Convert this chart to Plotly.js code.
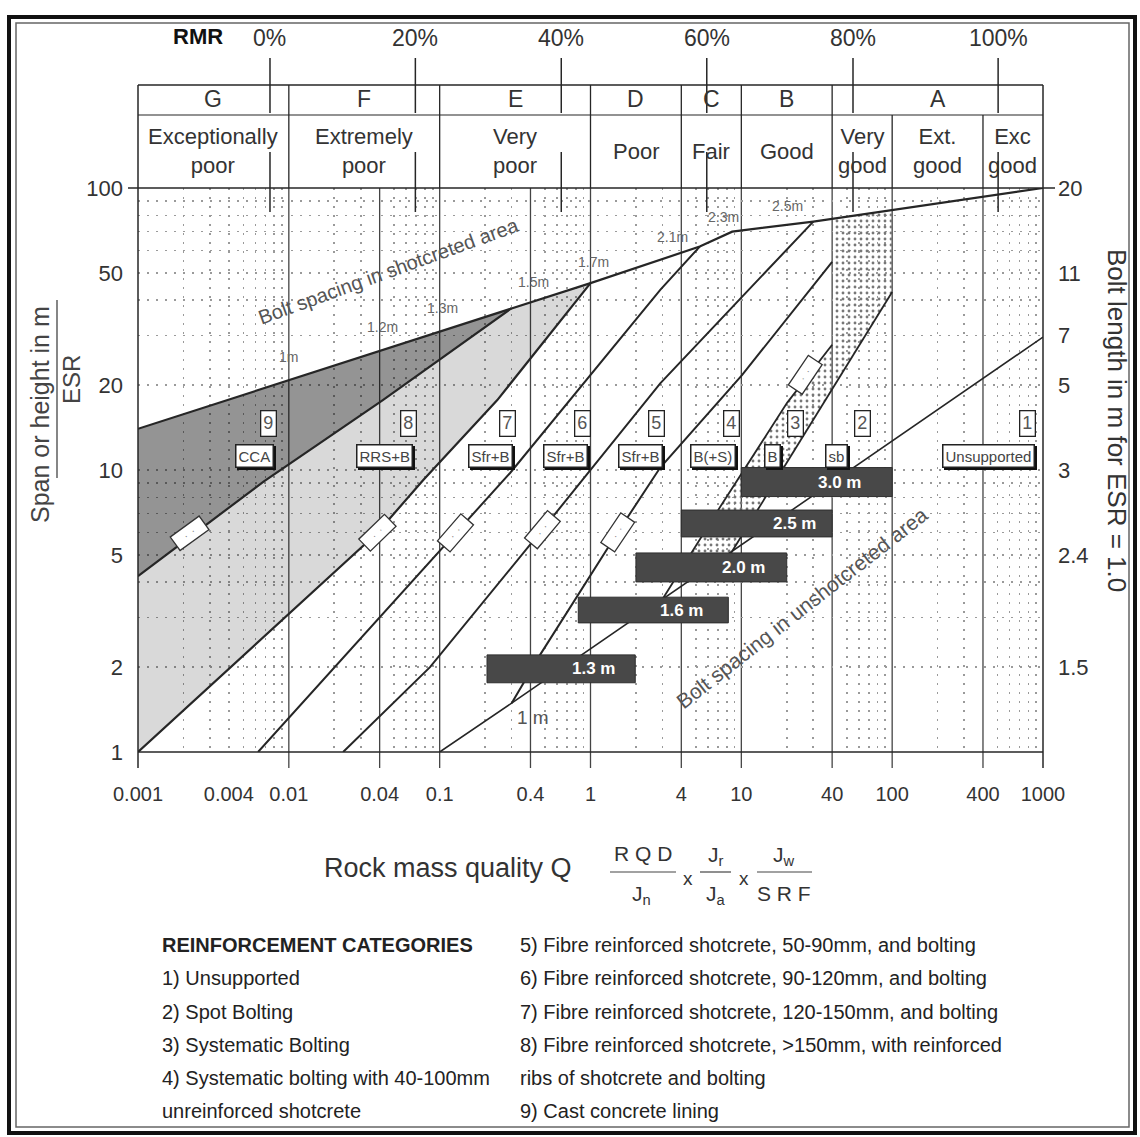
<!DOCTYPE html>
<html><head><meta charset="utf-8">
<script src="https://cdn.plot.ly/plotly-3.0.1.min.js"></script>
<style>html,body{margin:0;padding:0;background:#fff}#chart{width:1140px;height:1137px}</style>
</head><body><div id="chart"></div>
<script>
// ---------------- DATA ----------------
const xTickVals = [0.001,0.004,0.01,0.04,0.1,0.4,1,4,10,40,100,400,1000];
const xTickText = ['0.001','0.004','0.01','0.04','0.1','0.4','1','4','10','40','100','400','1000'];
const yTickVals = [1,2,5,10,20,50,100];
const yTickText = ['1','2','5','10','20','50','100'];
const boltLenVals = [2,5,10,20,30,50,100];
const boltLenText = ['1.5','2.4','3','5','7','11','20'];

const qClassBounds = [0.001,0.01,0.1,1,4,10,40,1000];
const qClassLetters = ['G','F','E','D','C','B','A'];
const qSubBounds = [0.001,0.01,0.1,1,4,10,40,100,400,1000];
const qSubNames = ['Exceptionally<br>poor','Extremely<br>poor','Very<br>poor','Poor','Fair','Good','Very<br>good','Ext.<br>good','Exc<br>good'];

const rmrText = ['0%','20%','40%','60%','80%','100%'];
const rmrQ = [0.0075,0.069,0.64,5.9,55,504];

const solidGridQ = [0.01,0.04,0.1,0.4,1,4,10,40,100,400];

// bolt spacing in shotcreted area (upper envelope)
const shotQ = [0.001,0.3,1,5.3,8.7,30,1000];
const shotS = [14,37.5,46,62,70,76,100];
const shotSpacingText = ['1m','1.2m','1.3m','1.5m','1.7m','2.1m','2.3m','2.5m'];
const shotSpacingQ = [0.01,0.0415,0.105,0.416,1.04,3.47,7.57,20.1];
const shotSpacingS = [25.2,32.1,37.5,46.4,54.6,67,78.9,86.3];

// category boundary lines
const cat98Q = [0.001,0.0068,0.042,0.3];
const cat98S = [4.2,9.1,17.7,37.5];
const catAQ = [0.001,0.0385,0.0776,0.241,1];
const catAS = [1,5.98,9.2,17.7,46];
const catBQ = [0.00625,0.127,0.293,2.9,5.3];
const catBS = [1,5.98,9.76,43.5,62];
const catCQ = [0.0229,0.0863,0.478,2.9,10.1,30];
const catCS = [1,2.0,6.13,20.3,41.1,76];
const catDQ = [0.3,0.463,1.52,2.9,10.1,40];
const catDS = [1.49,2.21,6.03,10.2,21.7,54.7];
const cat4Q = [2.9,7.23,20.1,40];
const cat4S = [3.38,7.39,17.3,27.8];
const cat5Q = [8.55,100];
const cat5S = [5.08,42.8];

// bolt spacing in unshotcreted area
const unshotQ = [0.1,0.3,1000];
const unshotS = [1,1.49,29.6];

// spot bolting (dotted) area
const spotQ = [40,100,100,8.55,4.66,7.23,20.1,40];
const spotS = [77.8,83.6,42.8,5.08,5.08,7.39,17.3,27.8];

// bolt spacing bars (unshotcreted)
const barLabel = ['3.0 m','2.5 m','2.0 m','1.6 m','1.3 m'];
const barQ0 = [10,4,2,0.83,0.206];
const barQ1 = [100,40,20,8.2,1.98];
const barS0 = [8.05,5.79,4.01,2.87,1.76];
const barS1 = [10.2,7.21,5.08,3.54,2.21];
const barTextQ = [45,22.4,10.4,4.04,1.05];

// reinforcement categories labels
const catNum = ['9','8','7','6','5','4','3','2','1'];
const catNumQ = [0.00728,0.0617,0.28,0.89,2.72,8.56,22.8,63.2,785];
const catName = ['CCA','RRS+B','Sfr+B','Sfr+B','Sfr+B','B(+S)','B','sb','Unsupported'];
const catNameQ = [0.00588,0.0434,0.216,0.679,2.13,6.5,16,43,434];
const catNumS = 14.6, catNameS = 11.2;

// bolt symbols on lines
const boltSymQ = [0.00221,0.0385,0.127,0.478,1.52,26.5];
const boltSymS = [5.98,5.98,5.98,6.13,6.03,21.7];
const boltSymAngle = [36,44,49,50,56,56];

const legendLeft = ['<b>REINFORCEMENT CATEGORIES</b>','1) Unsupported','2) Spot Bolting','3) Systematic Bolting','4) Systematic bolting with 40-100mm','unreinforced shotcrete'];
const legendRight = ['5) Fibre reinforced shotcrete, 50-90mm, and bolting','6) Fibre reinforced shotcrete, 90-120mm, and bolting','7) Fibre reinforced shotcrete, 120-150mm, and bolting','8) Fibre reinforced shotcrete, >150mm, with reinforced','ribs of shotcrete and bolting','9) Cast concrete lining'];

// ---------------- LAYOUT HELPERS ----------------
const W = 1140, H = 1137, ML = 138, MR = 97, MT = 188, MB = 385;
const PW = W - ML - MR, PH = H - MT - MB;
const px = v => (v - ML) / PW;          // pixel x -> paper x
const py = v => (H - MB - v) / PH;      // pixel y -> paper y
const FONT = '"Liberation Sans", Arial, sans-serif';
const INK = '#262626';

// ---------------- TRACES ----------------
const traces = [];
const darkQ = shotQ.slice(0,2).concat(cat98Q.slice().reverse());
const darkS = shotS.slice(0,2).concat(cat98S.slice().reverse());
const lightQ = cat98Q.concat([shotQ[2]], catAQ.slice().reverse());
const lightS = cat98S.concat([shotS[2]], catAS.slice().reverse());
traces.push({x: lightQ, y: lightS, fill:'toself', fillcolor:'rgba(0,0,0,0.15)', line:{width:0}, mode:'lines', hoverinfo:'skip'});
traces.push({x: darkQ, y: darkS, fill:'toself', fillcolor:'rgba(0,0,0,0.42)', line:{width:0}, mode:'lines', hoverinfo:'skip'});
traces.push({x: spotQ, y: spotS, fill:'toself', fillcolor:'rgba(0,0,0,0)', line:{width:0}, mode:'lines', hoverinfo:'skip',
  fillpattern:{shape:'.', fgcolor:'#777', bgcolor:'rgba(255,255,255,0)', size:6, solidity:0.18}});

function line(q, s, w, c) { traces.push({x:q, y:s, mode:'lines', line:{color:c||INK, width:w||2}, hoverinfo:'skip'}); }
line(shotQ, shotS, 2.2);
line(cat98Q, cat98S, 2.2);
line(catAQ, catAS, 2.2);
line(catBQ, catBS, 2);
line(catCQ, catCS, 2);
line(catDQ, catDS, 2);
line(cat4Q, cat4S, 1.8);
line(cat5Q, cat5S, 1.8);
line(unshotQ, unshotS, 1.6);

for (let i = 0; i < barLabel.length; i++) {
  traces.push({x:[barQ0[i],barQ1[i],barQ1[i],barQ0[i],barQ0[i]], y:[barS0[i],barS0[i],barS1[i],barS1[i],barS0[i]],
    mode:'lines', fill:'toself', fillcolor:'#484848', line:{color:'#2e2e2e', width:1}, hoverinfo:'skip'});
}
traces.push({x:[1], y:[10], yaxis:'y2', mode:'markers', marker:{opacity:0}, hoverinfo:'skip'});

// ---------------- SHAPES ----------------
const shapes = [];
const L = (x0,y0,x1,y1,xref,yref,w,c,layer) => shapes.push({type:'line',x0,y0,x1,y1,xref,yref,layer:layer||'above',line:{color:c||INK,width:w||1.5}});
solidGridQ.forEach(q => L(q, py(768), q, 1, 'x', 'paper', 1.3, '#444', 'below'));
// plot borders
L(0, py(768), 0, py(85), 'paper', 'paper', 1.5);
L(1, py(768), 1, py(85), 'paper', 'paper', 1.5);
L(px(128), 1, px(1055), 1, 'paper', 'paper', 1.6);
L(0, 0, 1, 0, 'paper', 'paper', 1.5);
// header grid
L(0, py(85), 1, py(85), 'paper', 'paper', 1.5);
L(0, py(115), 1, py(115), 'paper', 'paper', 1.2);
qClassBounds.slice(1,-1).forEach(q => L(q, 1, q, py(85), 'x', 'paper', 1.3));
[100,400].forEach(q => L(q, 1, q, py(115), 'x', 'paper', 1.3));
// RMR markers
rmrQ.forEach(q => { L(q, py(58), q, py(113), 'x', 'paper', 1.5); L(q, py(152), q, py(212), 'x', 'paper', 1.5); });
// y title fraction line
L(px(57), py(300), px(57), py(478), 'paper', 'paper', 1.3, '#444');
// formula fraction lines
L(px(610), py(872), px(676), py(872), 'paper', 'paper', 1.2, '#444');
L(px(700), py(872), px(731), py(872), 'paper', 'paper', 1.2, '#444');
L(px(757), py(872), px(812), py(872), 'paper', 'paper', 1.2, '#444');
// frame
shapes.push({type:'rect', xref:'paper', yref:'paper', x0:px(9), x1:px(1135), y0:py(1133), y1:py(17), line:{color:'#111', width:4}});
shapes.push({type:'rect', xref:'paper', yref:'paper', x0:px(16), x1:px(1129), y0:py(1127), y1:py(23), line:{color:'#666', width:1.5}});

// ---------------- ANNOTATIONS ----------------
const ann = [];
const T = (o) => ann.push(Object.assign({showarrow:false, xanchor:'center', yanchor:'middle', font:{family:FONT, size:22, color:'#333'}}, o));
for (let i = 0; i < qClassLetters.length; i++) {
  T({x: Math.log10(Math.sqrt(qClassBounds[i]*qClassBounds[i+1])), xref:'x', y: py(99), yref:'paper', text: qClassLetters[i], font:{family:FONT,size:23,color:'#333'}});
}
for (let i = 0; i < qSubNames.length; i++) {
  T({x: Math.log10(Math.sqrt(qSubBounds[i]*qSubBounds[i+1])), xref:'x', y: py(151), yref:'paper', text: qSubNames[i], font:{family:FONT,size:22,color:'#333'}});
}
rmrText.forEach((t,i) => T({x: Math.log10(rmrQ[i]), xref:'x', y: py(38), yref:'paper', text: t, font:{family:FONT,size:23,color:'#333'}}));
T({x: px(198), xref:'paper', y: py(36), yref:'paper', text:'<b>RMR</b>', font:{family:FONT,size:22,color:'#111'}});

// spacing labels on shotcrete envelope
shotSpacingText.forEach((t,i) => T({x: Math.log10(shotSpacingQ[i]), y: Math.log10(shotSpacingS[i]), xref:'x', yref:'y', text:t, font:{family:FONT,size:14,color:'#666'}}));
T({x: Math.log10(0.046), y: Math.log10(50.6), xref:'x', yref:'y', text:'Bolt spacing in shotcreted area', textangle:-20, font:{family:FONT,size:20,color:'#555'}});
T({x: Math.log10(25.4), y: Math.log10(3.25), xref:'x', yref:'y', text:'Bolt spacing in unshotcreted area', textangle:-38, font:{family:FONT,size:21,color:'#555'}});
T({x: Math.log10(0.418), y: Math.log10(1.33), xref:'x', yref:'y', text:'1 m', font:{family:FONT,size:19,color:'#555'}});

// bar labels
barLabel.forEach((t,i) => T({x: Math.log10(barTextQ[i]), y: Math.log10(Math.sqrt(barS0[i]*barS1[i])), xref:'x', yref:'y', text:'<b>'+t+'</b>', font:{family:FONT,size:17,color:'#fff'}}));

// bolt symbols
boltSymQ.forEach((q,i) => T({x: Math.log10(q), y: Math.log10(boltSymS[i]), xref:'x', yref:'y', text:'·  ·', width:30, height:11, textangle:-boltSymAngle[i],
  bgcolor:'#fff', bordercolor:'#333', borderwidth:1.3, borderpad:2, font:{family:FONT,size:10,color:'#777'}}));

// category number boxes and name boxes
catNum.forEach((t,i) => T({x: Math.log10(catNumQ[i]), y: Math.log10(catNumS), xref:'x', yref:'y', text:t, bgcolor:'#fff', bordercolor:'#222', borderwidth:1.3, borderpad:2, font:{family:FONT,size:18,color:'#555'}}));
catName.forEach((t,i) => {
  T({x: Math.log10(catNameQ[i]), y: Math.log10(catNameS), xref:'x', yref:'y', xshift:2, yshift:-2, text:t, bgcolor:'#111', bordercolor:'#111', borderwidth:1.5, borderpad:2, font:{family:FONT,size:15,color:'#111'}});
  T({x: Math.log10(catNameQ[i]), y: Math.log10(catNameS), xref:'x', yref:'y', text:t, bgcolor:'#fff', bordercolor:'#222', borderwidth:1.5, borderpad:2, font:{family:FONT,size:15,color:'#444'}});
});

// axis titles
T({x: px(40), y: py(415), xref:'paper', yref:'paper', text:'Span or height in m', textangle:-90, font:{family:FONT,size:25,color:'#444'}});
T({x: px(71), y: py(380), xref:'paper', yref:'paper', text:'ESR', textangle:-90, font:{family:FONT,size:24,color:'#444'}});
T({x: px(1117), y: py(420), xref:'paper', yref:'paper', text:'Bolt length in m for ESR = 1.0', textangle:90, font:{family:FONT,size:26,color:'#333'}});

// Q formula
T({x: px(448), y: py(868), xref:'paper', yref:'paper', text:'Rock mass quality Q', font:{family:FONT,size:27,color:'#333'}});
T({x: px(643), y: py(853), xref:'paper', yref:'paper', text:'R Q D', font:{family:FONT,size:21,color:'#333'}});
T({x: px(641), y: py(895), xref:'paper', yref:'paper', text:'J<sub>n</sub>', font:{family:FONT,size:21,color:'#333'}});
T({x: px(688), y: py(878), xref:'paper', yref:'paper', text:'x', font:{family:FONT,size:19,color:'#333'}});
T({x: px(716), y: py(856), xref:'paper', yref:'paper', text:'J<sub>r</sub>', font:{family:FONT,size:21,color:'#333'}});
T({x: px(716), y: py(895), xref:'paper', yref:'paper', text:'J<sub>a</sub>', font:{family:FONT,size:21,color:'#333'}});
T({x: px(744), y: py(878), xref:'paper', yref:'paper', text:'x', font:{family:FONT,size:19,color:'#333'}});
T({x: px(784), y: py(856), xref:'paper', yref:'paper', text:'J<sub>w</sub>', font:{family:FONT,size:21,color:'#333'}});
T({x: px(784), y: py(893), xref:'paper', yref:'paper', text:'S R F', font:{family:FONT,size:21,color:'#333'}});

// legend
const rowsY = [945,978,1012,1045,1078,1111];
legendLeft.forEach((t,i) => T({x: px(160), y: py(rowsY[i]), xref:'paper', yref:'paper', xanchor:'left', text:t, font:{family:FONT,size:20,color:'#222'}}));
legendRight.forEach((t,i) => T({x: px(518), y: py(rowsY[i]), xref:'paper', yref:'paper', xanchor:'left', text:t, font:{family:FONT,size:20,color:'#222'}}));

// ---------------- MINOR GRID ----------------
const minorX = [], minorY = [];
for (let e = -3; e < 3; e++) for (let m = 2; m <= 9; m++) { if (m !== 4 || e === -3) minorX.push(m * Math.pow(10, e)); }
for (let e = 0; e < 2; e++) for (let m = 2; m <= 9; m++) minorY.push(m * Math.pow(10, e));

const GRID = {gridcolor:'#9a9a9a', griddash:'2px,7px', gridwidth:1.6};
const layout = {
  width: W, height: H, margin:{l:ML, r:MR, t:MT, b:MB}, showlegend:false,
  paper_bgcolor:'#fff', plot_bgcolor:'#fff',
  xaxis:{type:'log', range:[-3,3], tickmode:'array', tickvals:xTickVals, ticktext:xTickText, showgrid:false, zeroline:false,
    ticks:'', ticklabelstandoff:28, tickfont:{family:FONT, size:20, color:'#333'}, showline:false,
    minor:Object.assign({tickmode:'array', tickvals:minorX, showgrid:true, ticks:''}, GRID)},
  yaxis:Object.assign({type:'log', range:[0,2], tickmode:'array', tickvals:yTickVals, ticktext:yTickText, showgrid:true,
    zeroline:false, ticks:'', ticklabelstandoff:14, tickfont:{family:FONT, size:22, color:'#333'}, showline:false,
    minor:Object.assign({tickmode:'array', tickvals:minorY, showgrid:true, ticks:''}, GRID)}, GRID),
  yaxis2:{type:'log', range:[0,2], overlaying:'y', side:'right', tickmode:'array', tickvals:boltLenVals, ticktext:boltLenText,
    showgrid:false, zeroline:false, ticks:'', ticklabelstandoff:14, tickfont:{family:FONT, size:22, color:'#333'}, showline:false},
  shapes: shapes, annotations: ann
};
Plotly.newPlot('chart', traces, layout, {staticPlot:true, displayModeBar:false});
</script></body></html>
